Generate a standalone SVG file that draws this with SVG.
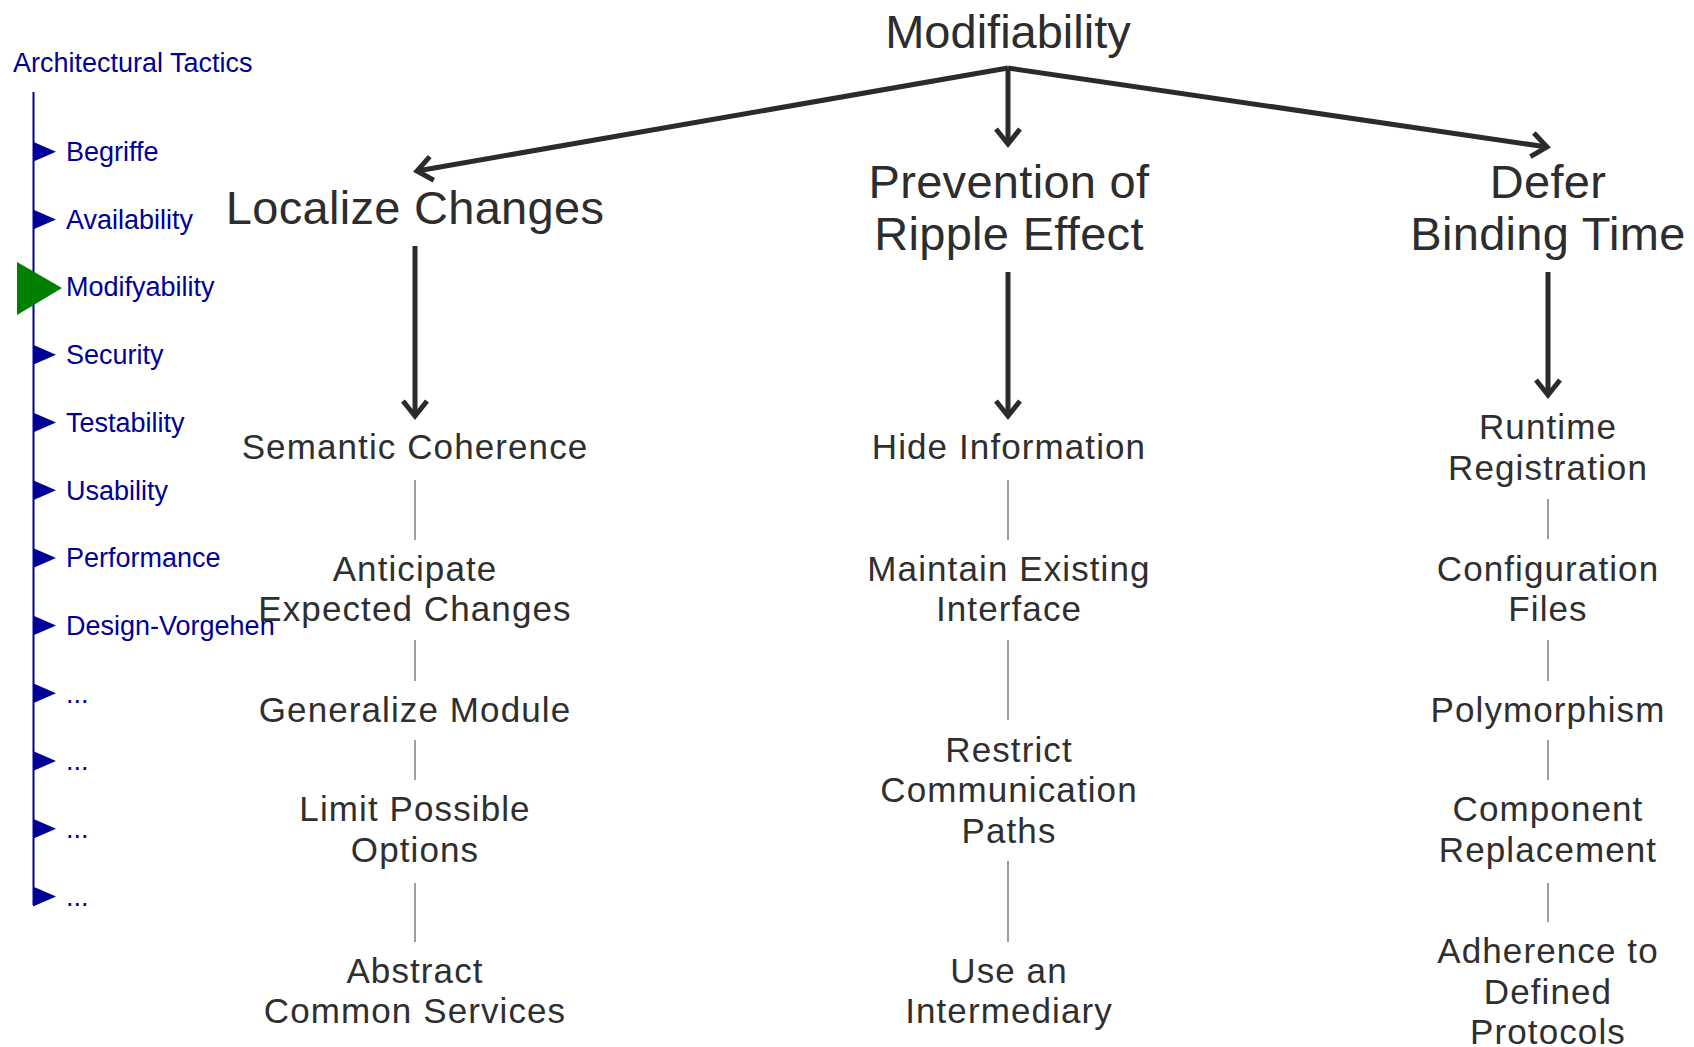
<svg xmlns="http://www.w3.org/2000/svg" xmlns:xlink="http://www.w3.org/1999/xlink" width="1694" height="1047" viewBox="0 0 1694 1047">
<style>
.side{font-family:"Liberation Sans",Arial,sans-serif;font-size:27px;fill:#000099}
.title{font-family:"Liberation Sans",Arial,sans-serif;font-size:47px;fill:#2d2d2d;text-anchor:middle}
.head{font-family:"Liberation Sans",Arial,sans-serif;font-size:47px;letter-spacing:0.3px;fill:#2d2d2d;text-anchor:middle}
.item{font-family:"Liberation Sans",Arial,sans-serif;font-size:35px;letter-spacing:1.1px;fill:#2f2f2f;text-anchor:middle}
.arrow{stroke:#2b2b2b;stroke-width:5;fill:none;marker-end:url(#chev)}
.thin{stroke:#6a6a6a;stroke-width:1.3;fill:none}
.tri{fill:#000099}
</style>
<defs>
<marker id="chev" markerUnits="userSpaceOnUse" viewBox="-20 -14 24 28" refX="0" refY="0" markerWidth="24" markerHeight="28" orient="auto" overflow="visible">
<path d="M-15,-12 L0,0 L-15,12" fill="none" stroke="#2b2b2b" stroke-width="5" stroke-linejoin="miter"/>
</marker>
<path id="btri" d="M0,-10 L23,0 L0,10Z"/>
</defs>
<rect width="1694" height="1047" fill="#ffffff"/>

<g id="sidebar">
<text class="side" x="13" y="72">Architectural Tactics</text>
<line x1="33.5" y1="92" x2="33.5" y2="905" stroke="#000099" stroke-width="2"/>
<g id="side-begriffe"><use xlink:href="#btri" class="tri" x="33" y="151.7"/><text class="side" x="66" y="161">Begriffe</text></g>
<g id="side-availability"><use xlink:href="#btri" class="tri" x="33" y="219.4"/><text class="side" x="66" y="228.7">Availability</text></g>
<g id="side-modifyability"><path d="M17,262 L62,288 L17,315Z" fill="#008000"/><text class="side" x="66" y="296.4">Modifyability</text></g>
<g id="side-security"><use xlink:href="#btri" class="tri" x="33" y="354.8"/><text class="side" x="66" y="364.1">Security</text></g>
<g id="side-testability"><use xlink:href="#btri" class="tri" x="33" y="422.5"/><text class="side" x="66" y="431.8">Testability</text></g>
<g id="side-usability"><use xlink:href="#btri" class="tri" x="33" y="490.2"/><text class="side" x="66" y="499.5">Usability</text></g>
<g id="side-performance"><use xlink:href="#btri" class="tri" x="33" y="557.9"/><text class="side" x="66" y="567.2">Performance</text></g>
<g id="side-design"><use xlink:href="#btri" class="tri" x="33" y="625.6"/><text class="side" x="66" y="634.9">Design-Vorgehen</text></g>
<g id="side-more1"><use xlink:href="#btri" class="tri" x="33" y="693.3"/><text class="side" x="66" y="702.6">...</text></g>
<g id="side-more2"><use xlink:href="#btri" class="tri" x="33" y="761"/><text class="side" x="66" y="770.3">...</text></g>
<g id="side-more3"><use xlink:href="#btri" class="tri" x="33" y="828.7"/><text class="side" x="66" y="838">...</text></g>
<g id="side-more4"><use xlink:href="#btri" class="tri" x="33" y="896.4"/><text class="side" x="66" y="905.7">...</text></g>
</g>

<g id="connectors">
<path class="arrow" d="M1008,68 L417,171"/>
<path class="arrow" d="M1008,68 L1008,144"/>
<path class="arrow" d="M1008,68 L1547,147"/>
<path class="arrow" d="M415,246 L415,416"/>
<path class="arrow" d="M1008,272 L1008,416"/>
<path class="arrow" d="M1548,272 L1548,395"/>
<line class="thin" x1="415" y1="480" x2="415" y2="540"/>
<line class="thin" x1="415" y1="640" x2="415" y2="681"/>
<line class="thin" x1="415" y1="740" x2="415" y2="780"/>
<line class="thin" x1="415" y1="883" x2="415" y2="942"/>
<line class="thin" x1="1008" y1="480" x2="1008" y2="540"/>
<line class="thin" x1="1008" y1="640" x2="1008" y2="720"/>
<line class="thin" x1="1008" y1="861" x2="1008" y2="942"/>
<line class="thin" x1="1548" y1="499" x2="1548" y2="539"/>
<line class="thin" x1="1548" y1="640" x2="1548" y2="681"/>
<line class="thin" x1="1548" y1="740" x2="1548" y2="780"/>
<line class="thin" x1="1548" y1="883" x2="1548" y2="922"/>
</g>

<g id="modifiability"><text class="title" x="1008" y="48">Modifiability</text></g>

<g id="localize-changes"><text class="head" x="415" y="224">Localize Changes</text></g>
<g id="prevention-ripple"><text class="head" x="1009" y="198">Prevention of</text><text class="head" x="1009" y="250">Ripple Effect</text></g>
<g id="defer-binding"><text class="head" x="1548" y="198">Defer</text><text class="head" x="1548" y="250">Binding Time</text></g>

<g id="semantic-coherence"><text class="item" x="415" y="459">Semantic Coherence</text></g>
<g id="anticipate"><text class="item" x="415" y="581">Anticipate</text><text class="item" x="415" y="621">Expected Changes</text></g>
<g id="generalize-module"><text class="item" x="415" y="722">Generalize Module</text></g>
<g id="limit-options"><text class="item" x="415" y="821">Limit Possible</text><text class="item" x="415" y="862">Options</text></g>
<g id="abstract-services"><text class="item" x="415" y="983">Abstract</text><text class="item" x="415" y="1023">Common Services</text></g>

<g id="hide-information"><text class="item" x="1009" y="459">Hide Information</text></g>
<g id="maintain-interface"><text class="item" x="1009" y="581">Maintain Existing</text><text class="item" x="1009" y="621">Interface</text></g>
<g id="restrict-paths"><text class="item" x="1009" y="762">Restrict</text><text class="item" x="1009" y="802">Communication</text><text class="item" x="1009" y="843">Paths</text></g>
<g id="intermediary"><text class="item" x="1009" y="983">Use an</text><text class="item" x="1009" y="1023">Intermediary</text></g>

<g id="runtime-registration"><text class="item" x="1548" y="439">Runtime</text><text class="item" x="1548" y="480">Registration</text></g>
<g id="configuration-files"><text class="item" x="1548" y="581">Configuration</text><text class="item" x="1548" y="621">Files</text></g>
<g id="polymorphism"><text class="item" x="1548" y="722">Polymorphism</text></g>
<g id="component-replacement"><text class="item" x="1548" y="821">Component</text><text class="item" x="1548" y="862">Replacement</text></g>
<g id="adherence-protocols"><text class="item" x="1548" y="963">Adherence to</text><text class="item" x="1548" y="1004">Defined</text><text class="item" x="1548" y="1044">Protocols</text></g>
</svg>
